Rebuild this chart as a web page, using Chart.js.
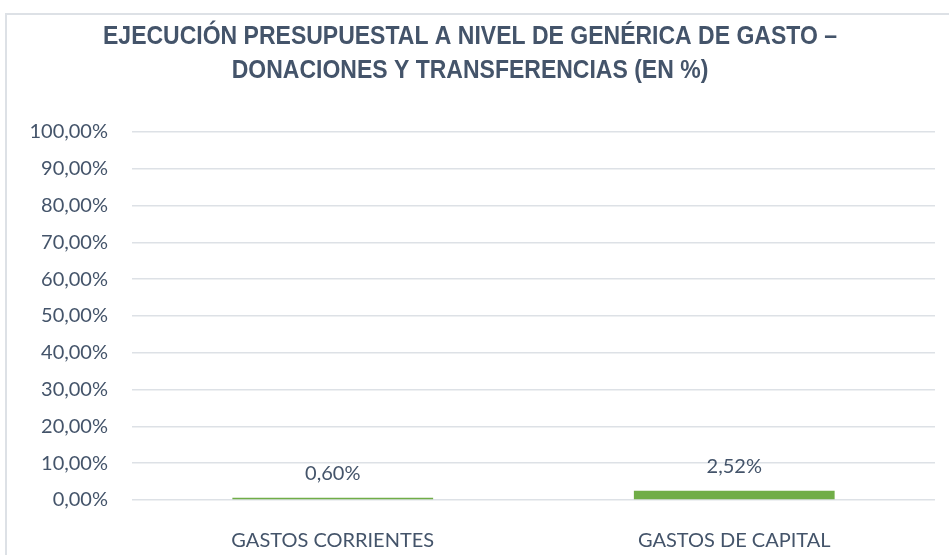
<!DOCTYPE html>
<html>
<head>
<meta charset="utf-8">
<script src="https://cdn.jsdelivr.net/npm/chart.js@4"></script>
<style>
  body { margin: 0; background: #fff; }
  #wrap { position: absolute; left: 0; top: 0; width: 949px; height: 555px; }
  #frame { position: absolute; left: 5px; top: 13px; width: 1000px; height: 600px; border: 2px solid #DDE1E6; box-sizing: border-box; }
</style>
</head>
<body>
<div id="frame"></div>
<div id="wrap"><canvas id="chart" width="949" height="555"></canvas></div>
<script>
const categories = ["GASTOS CORRIENTES", "GASTOS DE CAPITAL"];
const values = [0.60, 2.52];
const yTicks = [0, 10, 20, 30, 40, 50, 60, 70, 80, 90, 100];
const titleLines = ["EJECUCIÓN PRESUPUESTAL A NIVEL DE GENÉRICA DE GASTO –", "DONACIONES Y TRANSFERENCIAS (EN %)"];

const textColor = '#44546A';
const pct = v => v.toFixed(2).replace('.', ',') + '%';

// narrow bold title (Arial Narrow look)
const narrowTitle = {
  id: 'narrowTitle',
  afterDraw(chart) {
    const ctx = chart.ctx;
    const cx = 470;
    ctx.save();
    ctx.font = 'bold 25px "Liberation Sans", Arial, sans-serif';
    ctx.fillStyle = textColor;
    ctx.textAlign = 'center';
    ctx.textBaseline = 'alphabetic';
    const sx = 0.92;
    ctx.scale(sx, 1);
    titleLines.forEach((t, i) => ctx.fillText(t, cx / sx, 44 + i * 33.5));
    ctx.restore();
  }
};

// data labels above each bar
const barLabels = {
  id: 'barLabels',
  afterDatasetsDraw(chart) {
    const ctx = chart.ctx;
    const meta = chart.getDatasetMeta(0);
    ctx.save();
    ctx.font = '20px Lato';
    ctx.fillStyle = textColor;
    ctx.textAlign = 'center';
    ctx.textBaseline = 'middle';
    meta.data.forEach((bar, i) => {
      ctx.fillText(pct(values[i]), bar.x, bar.y - 24);
    });
    ctx.restore();
  }
};

new Chart(document.getElementById('chart'), {
  type: 'bar',
  data: {
    labels: categories,
    datasets: [{
      data: values,
      backgroundColor: '#70AD47',
      barPercentage: 0.5,
      categoryPercentage: 1
    }]
  },
  options: {
    responsive: false,
    animation: false,
    layout: { padding: { left: 0, right: 14, top: 132, bottom: 0 } },
    plugins: {
      legend: { display: false },
      tooltip: { enabled: false },
      title: { display: false }
    },
    scales: {
      x: {
        grid: { display: false },
        border: { display: false },
        ticks: { color: textColor, font: { family: 'Lato', size: 20 }, padding: 21 },
        afterFit(s) { s.height = 55; }
      },
      y: {
        min: 0,
        max: 100,
        afterBuildTicks(s) { s.ticks = yTicks.map(v => ({ value: v })); },
        grid: { color: '#DDE1E6', lineWidth: 1.5, drawTicks: false },
        border: { display: false },
        ticks: { color: textColor, font: { family: 'Lato', size: 20 }, padding: 24, callback: v => pct(v) },
        afterFit(s) { s.width = 132; }
      }
    }
  },
  plugins: [barLabels, narrowTitle]
});
</script>
</body>
</html>
